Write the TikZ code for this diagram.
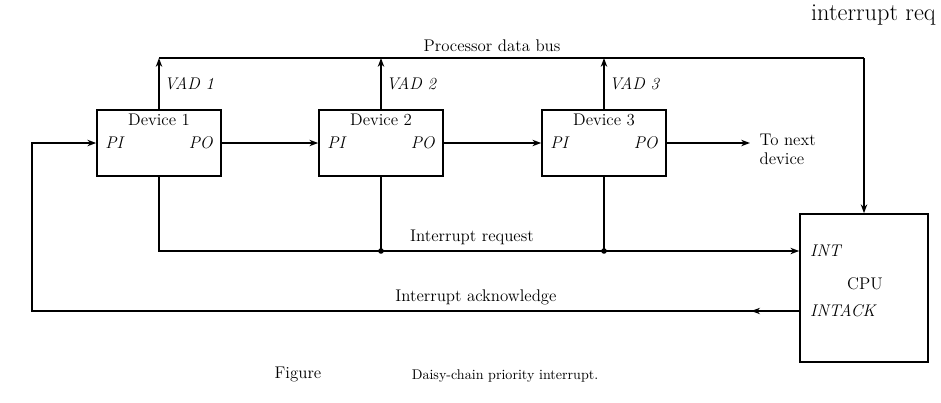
\documentclass[tikz,border=0pt]{standalone}
\usepackage{xcolor}
\usepackage{tikz}
\usetikzlibrary{positioning, arrows.meta, calc}

\begin{document}
\begin{tikzpicture}[x=0.025cm, y=-0.025cm, every node/.style={font=\large},
      device/.style={draw, line width=1.1pt, minimum width=3.1cm, minimum height=1.65cm},
      cpubox/.style={draw, line width=1.1pt, minimum width=3.2cm, minimum height=3.7cm},
      sig/.style={font=\large\itshape},
      wire/.style={line width=1.1pt},
      flow/.style={line width=1.1pt, -{Stealth[length=2.2mm, width=1.6mm]}},
      junction/.style={circle, fill, inner sep=1.4pt}]

      \useasboundingbox (0,0) rectangle (941,402);

      % Rows of the buses
      \coordinate (bus) at (0,58);
      \coordinate (irqrow) at (0,251);
      \coordinate (ackrow) at (0,311);
      \coordinate (ackleft) at (32,0);

      % Devices
      \node[device] (dev1) at (159,143) {};
      \node[device] (dev2) at (381,143) {};
      \node[device] (dev3) at (604,143) {};
      \node[below=0pt of dev1.north] (dev1name) {Device 1};
      \node[below=0pt of dev2.north] (dev2name) {Device 2};
      \node[below=0pt of dev3.north] (dev3name) {Device 3};
      \node[sig, right=3pt of dev1.west] (dev1pi) {PI};
      \node[sig, left=3pt of dev1.east] (dev1po) {PO};
      \node[sig, right=3pt of dev2.west] (dev2pi) {PI};
      \node[sig, left=3pt of dev2.east] (dev2po) {PO};
      \node[sig, right=3pt of dev3.west] (dev3pi) {PI};
      \node[sig, left=3pt of dev3.east] (dev3po) {PO};

      % CPU
      \node[cpubox] (cpu) at (864,288) {};
      \node[sig, anchor=west] (cpuint) at ($(cpu.west |- irqrow)+(6,0)$) {INT};
      \node (cpuname) at (865,284) {CPU};
      \node[sig, anchor=west] (cpuack) at ($(cpu.west |- ackrow)+(6,0)$) {INTACK};

      % Processor data bus
      \draw[flow] (dev1.north) -- (dev1.north |- bus) node[midway, right, sig] (vad1) {VAD 1};
      \draw[flow] (dev2.north) -- (dev2.north |- bus) node[midway, right, sig] (vad2) {VAD 2};
      \draw[flow] (dev3.north) -- (dev3.north |- bus) node[midway, right, sig] (vad3) {VAD 3};
      \draw[wire] (dev1.north |- bus) -- (cpu.north |- bus);
      \draw[flow] (cpu.north |- bus) -- (cpu.north);
      \node[above=1pt] (buslabel) at (492,58) {Processor data bus};

      % Priority chain
      \draw[flow] (dev1.east) -- (dev2.west);
      \draw[flow] (dev2.east) -- (dev3.west);
      \node[align=left, anchor=north west, inner sep=1pt] (next) at (758,132) {To next\\device};
      \coordinate (nextend) at ($(dev3.east -| next.west)+(-8,0)$);
      \draw[flow] (dev3.east) -- (nextend);

      % Interrupt request
      \draw[flow] (dev1.south) |- (cpu.west |- irqrow);
      \draw[wire] (dev2.south) -- (dev2.south |- irqrow) node[junction] (j2) {};
      \draw[wire] (dev3.south) -- (dev3.south |- irqrow) node[junction] (j3) {};
      \node[above=1pt] (irqlabel) at (472,251) {Interrupt request};

      % Interrupt acknowledge
      \draw[flow] (cpu.west |- ackrow) -| (ackleft |- dev1.west) -- (dev1.west);
      \draw[flow] (cpu.west |- ackrow) -- ++(-48,0) coordinate (ackmid);
      \node[above=1pt] (acklabel) at (476,311) {Interrupt acknowledge};

      % Caption
      \node (figlabel) at (298,374) {Figure};
      \node[font=\normalsize] (caption) at (505,376) {Daisy-chain priority interrupt.};

      % Scrap of the page above
      \node[anchor=base east, font=\LARGE, inner sep=0pt] (scrap) at (936,20) {interrupt req};
    \end{tikzpicture}
\end{document}
